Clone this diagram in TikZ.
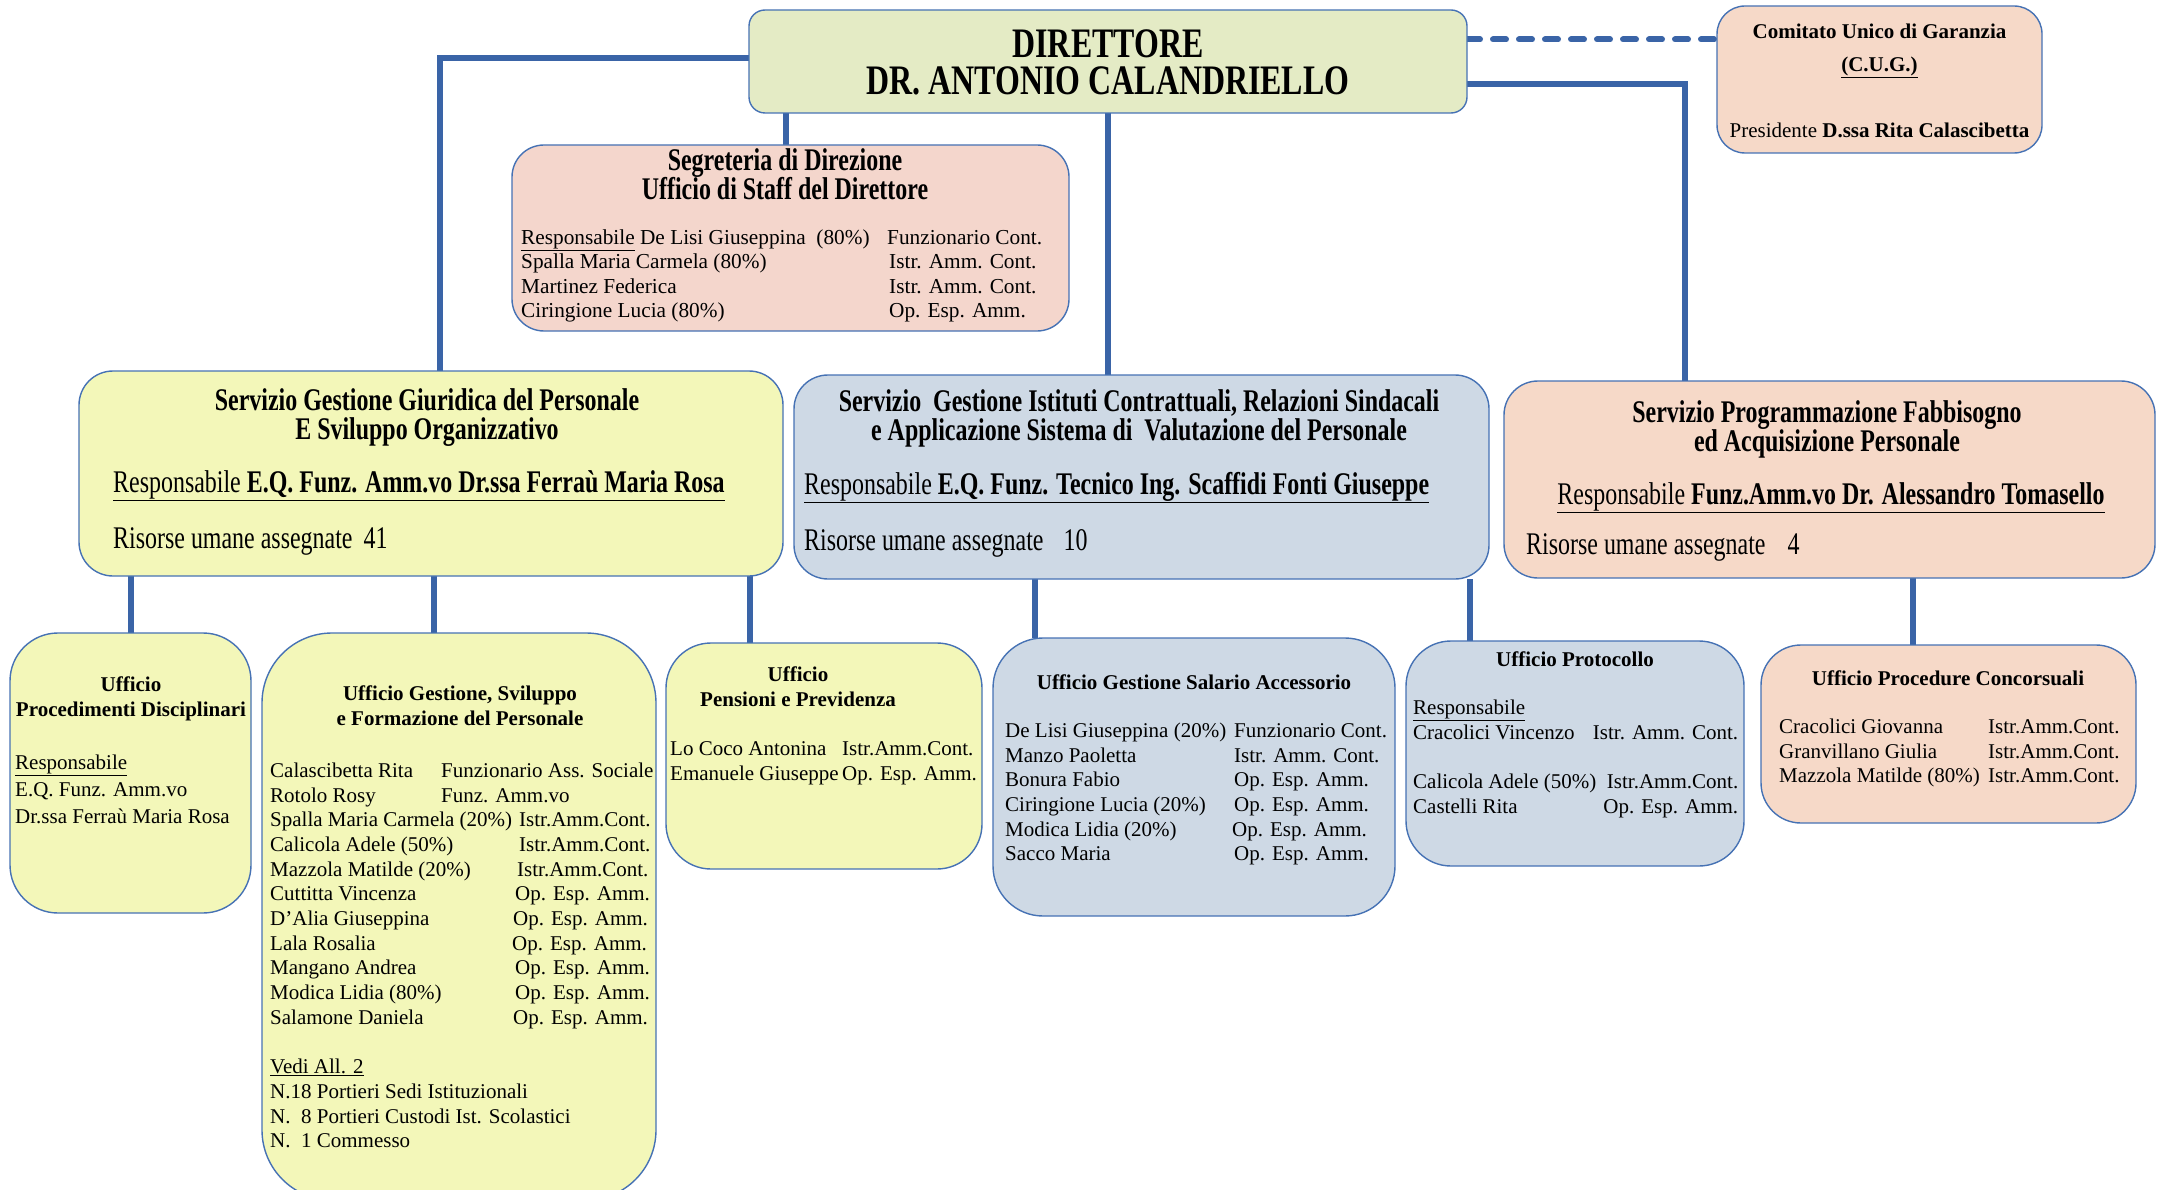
\documentclass[tikz,border=0pt]{standalone}
\usepackage{fontspec}
\setmainfont{Liberation Serif}
\newfontfamily\narrowfont[FakeStretch=0.76]{Liberation Serif}
\usepackage{tikz}
\usetikzlibrary{calc,backgrounds}

\definecolor{linkblue}{HTML}{3A64A7}
\definecolor{boxline}{HTML}{4672B4}
\definecolor{dirgreen}{HTML}{E4EBC5}
\definecolor{peach}{HTML}{F6D9C8}
\definecolor{pinkpeach}{HTML}{F4D6CC}
\definecolor{paleyellow}{HTML}{F3F7B9}
\definecolor{greyblue}{HTML}{CED9E5}

\begin{document}
\begin{tikzpicture}[x=1pt,y=-1pt,
  box/.style={draw=boxline, line width=1.4pt, inner sep=0pt, outer sep=0pt},
  link/.style={draw=linkblue, line width=6pt},
  dashlink/.style={link, dash pattern=on 13pt off 13pt, line cap=round},
  txt/.style={inner sep=0pt, font=\fontsize{21}{24.7}\selectfont},
  ttl/.style={inner sep=0pt, font=\fontsize{21}{25}\selectfont\bfseries},
  nrw/.style={inner sep=0pt, font=\narrowfont\fontsize{31.5}{28.5}\selectfont},
  nrwttl/.style={inner sep=0pt, font=\narrowfont\fontsize{31.5}{29}\selectfont\bfseries}]
  \useasboundingbox (0,0) rectangle (2162,1190);

  %% Boxes
  \node[box, fill=dirgreen, rounded corners=16pt, minimum width=718pt, minimum height=103pt] (dir) at (1108,61.5) {};
  \node[box, fill=peach, rounded corners=28pt, minimum width=325pt, minimum height=147pt] (cug) at (1879.5,79.5) {};
  \node[box, fill=pinkpeach, rounded corners=32pt, minimum width=557pt, minimum height=186pt] (segr) at (790.5,238) {};
  \node[box, fill=paleyellow, rounded corners=34pt, minimum width=704pt, minimum height=205pt] (sgiur) at (431,473.5) {};
  \node[box, fill=greyblue, rounded corners=34pt, minimum width=695pt, minimum height=204pt] (sist) at (1141.5,477) {};
  \node[box, fill=peach, rounded corners=34pt, minimum width=651pt, minimum height=197pt] (sprog) at (1829.5,479.5) {};
  \node[box, fill=paleyellow, rounded corners=48pt, minimum width=241pt, minimum height=280pt] (uproc) at (130.5,773) {};
  \node[box, fill=paleyellow, rounded corners=70pt, minimum width=394pt, minimum height=567pt] (ugest) at (459,916.5) {};
  \node[box, fill=paleyellow, rounded corners=45pt, minimum width=316pt, minimum height=226pt] (upens) at (824,756) {};
  \node[box, fill=greyblue, rounded corners=50pt, minimum width=402pt, minimum height=278pt] (usal) at (1194,777) {};
  \node[box, fill=greyblue, rounded corners=45pt, minimum width=338pt, minimum height=225pt] (uprot) at (1575,753.5) {};
  \node[box, fill=peach, rounded corners=40pt, minimum width=375pt, minimum height=178pt] (uconc) at (1948.5,734) {};

  %% Connectors
  \begin{scope}[on background layer]
    \coordinate (leftstart) at ([yshift=3pt]dir.west);
    \coordinate (Tsgiur) at ($(sgiur.north)+(9,0)$);
    \draw[link] (leftstart) -| (Tsgiur);
    \coordinate (Tsegr) at ($(segr.north)+(-5,0)$);
    \draw[link] (Tsegr |- dir.south) -- (Tsegr);
    \draw[link] (dir.south) -- (dir.south |- sist.north);
    \coordinate (rightstart) at ([yshift=-23pt]dir.east);
    \coordinate (Tsprog) at ($(sprog.north)+(-145,0)$);
    \draw[link] (rightstart) -| (Tsprog);
    \coordinate (dashstart) at ([yshift=22pt]dir.east);
    \draw[dashlink] (dashstart) -- (dashstart -| cug.west);
    \foreach \up/\down/\dx in {sgiur/uproc/0, sgiur/ugest/-25, sgiur/upens/-74,
                               sist/usal/-159, sist/uprot/-105, sprog/uconc/-36}
    {
      \coordinate (T\down) at ($(\down.north)+(\dx,0)$);
      \draw[link] (T\down |- \up.south) -- (T\down);
    }
  \end{scope}

  %% Direttore and C.U.G.
  \node[nrwttl, font=\narrowfont\fontsize{42}{36}\selectfont\bfseries, anchor=base] (dirT) at (1108,58)
    {\begin{tabular}[t]{@{}c@{}}DIRETTORE\\[-2.5pt]DR. ANTONIO CALANDRIELLO\end{tabular}};
  \node[txt, font=\fontsize{21}{33}\selectfont, anchor=mid] (cugT) at (1879.5,36)
    {\begin{tabular}[t]{@{}c@{}}\textbf{Comitato Unico di Garanzia}\\ \textbf{\underline{(C.U.G.)}}\\ \mbox{}\\
     Presidente \textbf{D.ssa Rita Calascibetta}\end{tabular}};

  %% Segreteria
  \node[nrwttl, anchor=mid] (segrT) at (785,168)
    {\begin{tabular}[t]{@{}c@{}}Segreteria di Direzione\\[-1.5pt]Ufficio di Staff del Direttore\end{tabular}};
  \node[txt, font=\fontsize{21.3}{24.4}\selectfont, anchor=mid west] (segrB) at (521,242)
    {\begin{tabular}[t]{@{}l@{}}
     \makebox[366pt][l]{\underline{Responsabile} De Lisi Giuseppina~ (80\%)}Funzionario Cont.\\
     \makebox[368pt][l]{Spalla Maria Carmela (80\%)}Istr. Amm. Cont.\\
     \makebox[368pt][l]{Martinez Federica}Istr. Amm. Cont.\\
     \makebox[368pt][l]{Ciringione Lucia (80\%)}Op. Esp. Amm.
     \end{tabular}};

  %% Servizi
  \node[nrwttl, anchor=mid] (sgiurT) at (427,408)
    {\begin{tabular}[t]{@{}c@{}}Servizio Gestione Giuridica del Personale\\[-1.5pt]E Sviluppo Organizzativo\end{tabular}};
  \node[nrw, anchor=mid west] (sgiurR) at (113,490)
    {\underline{Responsabile \textbf{E.Q. Funz. Amm.vo Dr.ssa Ferraù Maria Rosa}}};
  \node[nrw, anchor=mid west] (sgiurN) at (113,546) {Risorse umane assegnate\hspace{11pt}41};

  \node[nrwttl, anchor=mid] (sistT) at (1139,409)
    {\begin{tabular}[t]{@{}c@{}}Servizio~ Gestione Istituti Contrattuali, Relazioni Sindacali\\[-1.5pt]
     e Applicazione Sistema di~ Valutazione del Personale\end{tabular}};
  \node[nrw, anchor=mid west] (sistR) at (804,492)
    {\underline{Responsabile \textbf{E.Q. Funz. Tecnico Ing. Scaffidi Fonti Giuseppe}}};
  \node[nrw, anchor=mid west] (sistN) at (804,548) {Risorse umane assegnate\hspace{20pt}10};

  \node[nrwttl, anchor=mid] (sprogT) at (1827,420)
    {\begin{tabular}[t]{@{}c@{}}Servizio Programmazione Fabbisogno\\[-1.5pt]ed Acquisizione Personale\end{tabular}};
  \node[nrw, anchor=mid] (sprogR) at (1831,502)
    {\underline{Responsabile \textbf{Funz.Amm.vo Dr. Alessandro Tomasello}}};
  \node[nrw, anchor=mid west] (sprogN) at (1526,552) {Risorse umane assegnate\hspace{22pt}4};

  %% Uffici
  \node[ttl, anchor=mid] (uprocT) at (131,689)
    {\begin{tabular}[t]{@{}c@{}}Ufficio\\Procedimenti Disciplinari\end{tabular}};
  \node[txt, font=\fontsize{21}{27}\selectfont, anchor=mid west] (uprocB) at (15,767)
    {\begin{tabular}[t]{@{}l@{}}\underline{Responsabile}\\E.Q. Funz. Amm.vo\\Dr.ssa Ferraù Maria Rosa\end{tabular}};

  \node[ttl, anchor=mid] (ugestT) at (460,698)
    {\begin{tabular}[t]{@{}c@{}}Ufficio Gestione, Sviluppo\\e Formazione del Personale\end{tabular}};
  \node[txt, anchor=mid west] (ugestB) at (270,775)
    {\begin{tabular}[t]{@{}l@{}}
     \makebox[171pt][l]{Calascibetta Rita}Funzionario Ass. Sociale\\
     \makebox[171pt][l]{Rotolo Rosy}Funz. Amm.vo\\
     \makebox[249pt][l]{Spalla Maria Carmela (20\%)}Istr.Amm.Cont.\\
     \makebox[249pt][l]{Calicola Adele (50\%)}Istr.Amm.Cont.\\
     \makebox[247pt][l]{Mazzola Matilde (20\%)}Istr.Amm.Cont.\\
     \makebox[245pt][l]{Cuttitta Vincenza}Op. Esp. Amm.\\
     \makebox[243pt][l]{D'Alia Giuseppina}Op. Esp. Amm.\\
     \makebox[242pt][l]{Lala Rosalia}Op. Esp. Amm.\\
     \makebox[245pt][l]{Mangano Andrea}Op. Esp. Amm.\\
     \makebox[245pt][l]{Modica Lidia (80\%)}Op. Esp. Amm.\\
     \makebox[243pt][l]{Salamone Daniela}Op. Esp. Amm.\\
     \mbox{}\\
     \underline{Vedi All. 2}\\
     N.18 Portieri Sedi Istituzionali\\
     N.~~8 Portieri Custodi Ist. Scolastici\\
     N.~~1 Commesso
     \end{tabular}};

  \node[ttl, anchor=mid] (upensT) at (798,679)
    {\begin{tabular}[t]{@{}c@{}}Ufficio\\Pensioni e Previdenza\end{tabular}};
  \node[txt, anchor=mid west] (upensB) at (670,753)
    {\begin{tabular}[t]{@{}l@{}}
     \makebox[172pt][l]{Lo Coco Antonina}Istr.Amm.Cont.\\
     \makebox[172pt][l]{Emanuele Giuseppe}Op. Esp. Amm.
     \end{tabular}};

  \node[ttl, anchor=mid] (usalT) at (1194,687) {Ufficio Gestione Salario Accessorio};
  \node[txt, anchor=mid west] (usalB) at (1005,735)
    {\begin{tabular}[t]{@{}l@{}}
     \makebox[229pt][l]{De Lisi Giuseppina (20\%)}Funzionario Cont.\\
     \makebox[229pt][l]{Manzo Paoletta}Istr. Amm. Cont.\\
     \makebox[229pt][l]{Bonura Fabio}Op. Esp. Amm.\\
     \makebox[229pt][l]{Ciringione Lucia (20\%)}Op. Esp. Amm.\\
     \makebox[227pt][l]{Modica Lidia (20\%)}Op. Esp. Amm.\\
     \makebox[229pt][l]{Sacco Maria}Op. Esp. Amm.
     \end{tabular}};

  \node[ttl, anchor=mid] (uprotT) at (1575,664) {Ufficio Protocollo};
  \node[txt, anchor=mid west] (uprotB) at (1413,712)
    {\begin{tabular}[t]{@{}l@{}}
     \underline{Responsabile}\\
     \makebox[325pt][l]{Cracolici Vincenzo\hfill Istr. Amm. Cont.}\\
     \mbox{}\\
     \makebox[325pt][l]{Calicola Adele (50\%)\hfill Istr.Amm.Cont.}\\
     \makebox[325pt][l]{Castelli Rita\hfill Op. Esp. Amm.}
     \end{tabular}};

  \node[ttl, anchor=mid] (uconcT) at (1948,683) {Ufficio Procedure Concorsuali};
  \node[txt, anchor=mid west] (uconcB) at (1779,731)
    {\begin{tabular}[t]{@{}l@{}}
     \makebox[209pt][l]{Cracolici Giovanna}Istr.Amm.Cont.\\
     \makebox[209pt][l]{Granvillano Giulia}Istr.Amm.Cont.\\
     \makebox[209pt][l]{Mazzola Matilde (80\%)}Istr.Amm.Cont.
     \end{tabular}};
\end{tikzpicture}
\end{document}
